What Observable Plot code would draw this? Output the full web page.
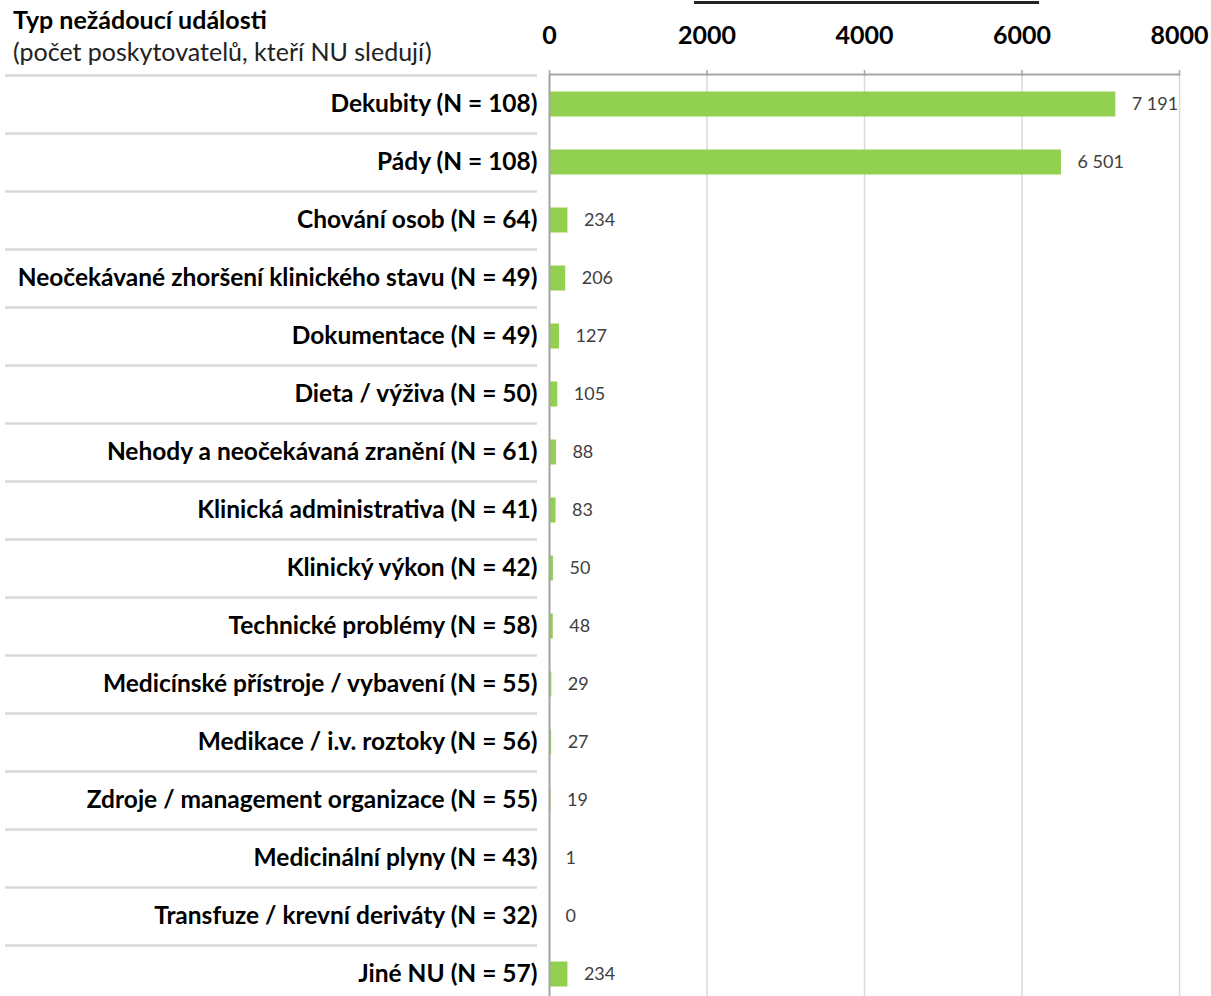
<!DOCTYPE html>
<html>
<head>
<meta charset="utf-8">
<script src="https://cdn.jsdelivr.net/npm/d3@7"></script>
<script src="https://cdn.jsdelivr.net/npm/@observablehq/plot@0.6"></script>
<style>
  html, body { margin: 0; padding: 0; background: #fff; overflow: hidden; }
  #wrap { position: relative; width: 1211px; height: 996px; font-family: Lato, "Open Sans", sans-serif; }
  #chart { position: absolute; left: 0; top: 0; }
  .head { position: absolute; left: 13px; color: #000; font-size: 25px; line-height: 30px; white-space: nowrap; }
  #h1 { top: 4px; font-weight: bold; }
  #h2 { top: 36px; color: #222; }
  #topbar { position: absolute; left: 694px; top: 1px; width: 345px; height: 3px; background: #222; }
</style>
</head>
<body>
<div id="wrap">
  <div id="chart"></div>
  <div id="topbar"></div>
  <div class="head" id="h1">Typ nežádoucí události</div>
  <div class="head" id="h2">(počet poskytovatelů, kteří NU sledují)</div>
</div>
<script>
// Adverse-event types with number of reporting providers
const categories = [
  "Dekubity (N = 108)",
  "Pády (N = 108)",
  "Chování osob (N = 64)",
  "Neočekávané zhoršení klinického stavu (N = 49)",
  "Dokumentace (N = 49)",
  "Dieta / výživa (N = 50)",
  "Nehody a neočekávaná zranění (N = 61)",
  "Klinická administrativa (N = 41)",
  "Klinický výkon (N = 42)",
  "Technické problémy (N = 58)",
  "Medicínské přístroje / vybavení (N = 55)",
  "Medikace / i.v. roztoky (N = 56)",
  "Zdroje / management organizace (N = 55)",
  "Medicinální plyny (N = 43)",
  "Transfuze / krevní deriváty (N = 32)",
  "Jiné NU (N = 57)"
];
// Number of reported events
const counts = [7191, 6501, 234, 206, 127, 105, 88, 83, 50, 48, 29, 27, 19, 1, 0, 234];
const xTicks = [0, 2000, 4000, 6000, 8000];

const rows = categories.map((c, i) => ({category: c, count: counts[i]}));

const W = 1211, H = 1003;
const mTop = 75, mBottom = 0, mLeft = 549, mRight = 32;
const step = (H - mTop - mBottom) / categories.length;
const plotW = W - mLeft - mRight;

const czFmt = d3.formatLocale({decimal: ",", thousands: "\u00a0", grouping: [3]}).format(",d");

const chart = Plot.plot({
  width: W,
  height: H,
  marginTop: mTop,
  marginBottom: mBottom,
  marginLeft: mLeft,
  marginRight: mRight,
  style: {fontFamily: "Lato, 'Open Sans', sans-serif", background: "#fff"},
  x: {domain: [0, 8000], axis: null},
  y: {domain: categories, padding: 0, axis: null},
  marks: [
    Plot.gridX(xTicks, {stroke: "#d9d9d9", strokeOpacity: 1, strokeWidth: 1.5}),
    // row separators on the label side
    Plot.ruleY(categories, {
      y: d => d, dy: -step / 2,
      stroke: "#d9d9d9", strokeWidth: 2.5,
      insetLeft: -(mLeft - 5), insetRight: plotW + 12
    }),
    Plot.barX(rows, {
      x: "count", y: "category", fill: "#92d050",
      insetTop: 16.5, insetBottom: 16.5
    }),
    // top axis line
    Plot.ruleY([categories[0]], {y: d => d, dy: -step / 2 - 1, stroke: "#a6a6a6", strokeWidth: 2}),
    Plot.ruleX([0], {stroke: "#a6a6a6", strokeWidth: 2}),
    Plot.axisX({
      anchor: "top", ticks: xTicks, tickSize: 6, tickPadding: 26,
      tickFormat: d => String(d), label: null,
      stroke: "#a6a6a6", strokeOpacity: 1, strokeWidth: 1.5,
      fill: "#000", fontSize: 25, fontWeight: "bold"
    }),
    Plot.axisY({
      tickSize: 0, tickPadding: 12, label: null,
      fill: "#000", fontSize: 24.5, fontWeight: "bold"
    }),
    Plot.text(rows, {
      x: "count", y: "category", text: d => czFmt(d.count),
      textAnchor: "start", dx: 16, fontSize: 18, fill: "#404040"
    })
  ]
});
document.getElementById("chart").appendChild(chart);
</script>
</body>
</html>
